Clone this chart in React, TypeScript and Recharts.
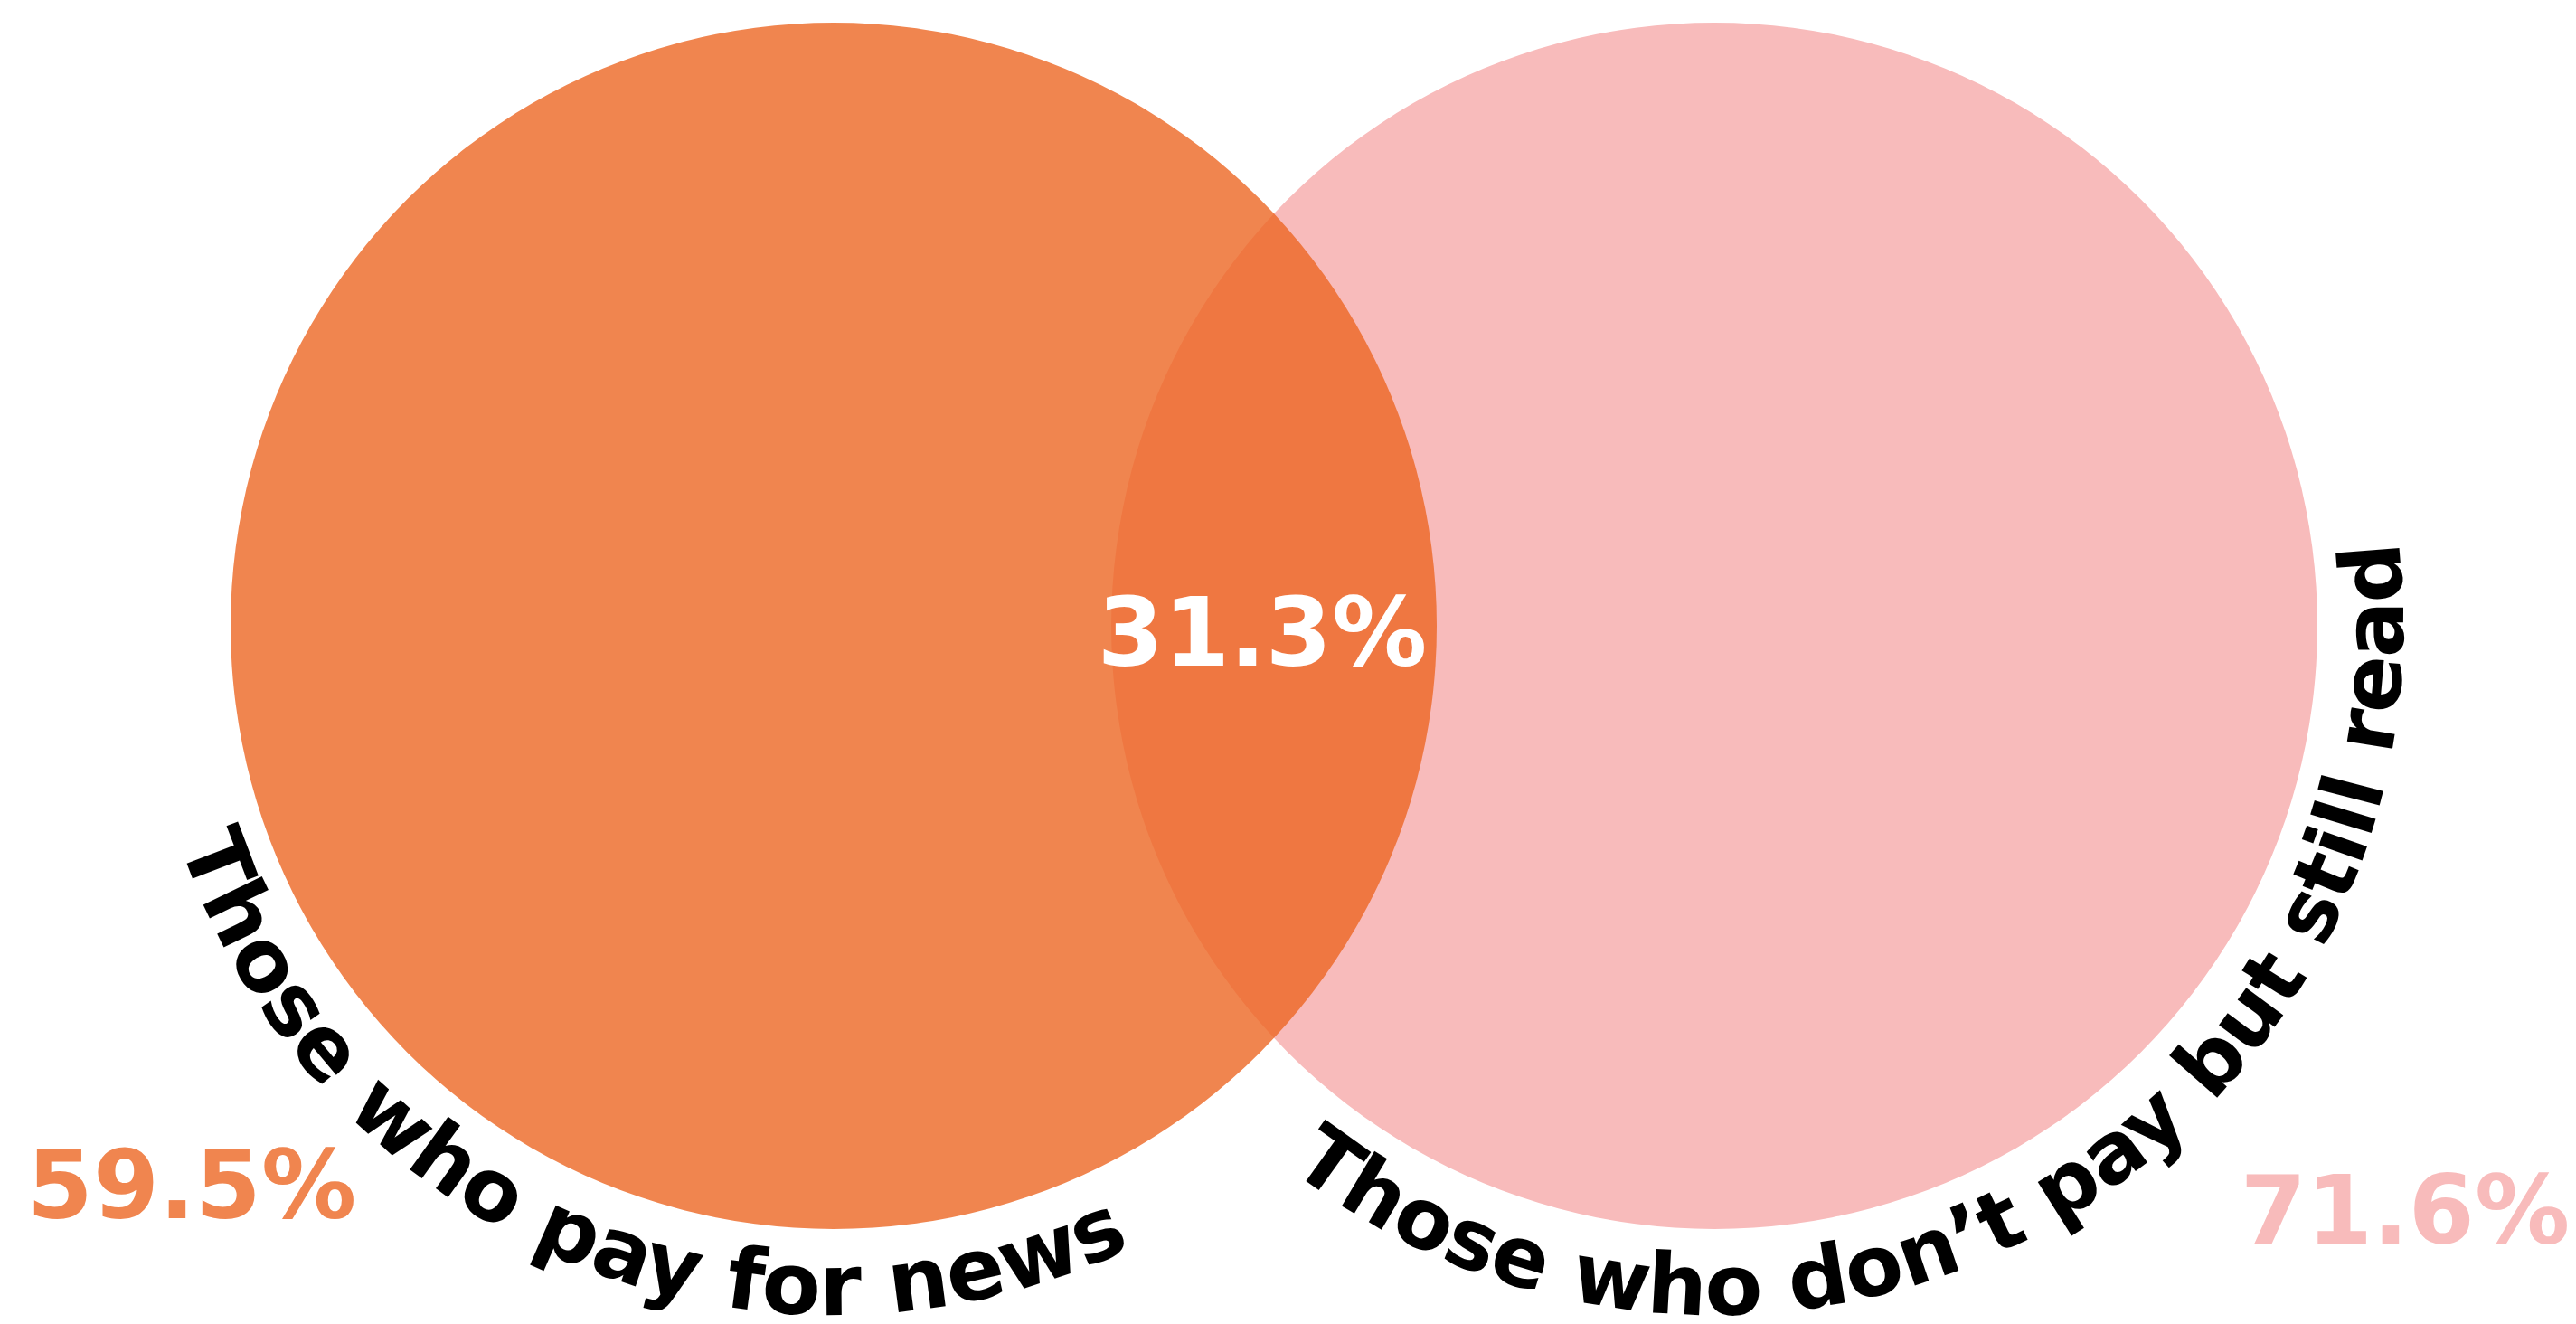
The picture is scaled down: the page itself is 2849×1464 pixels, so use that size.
import { Cell, Pie, PieChart } from "recharts";

const setNames = ["Those who pay for news", "Those who don\u2019t pay but still read"];
const setShares = [59.5, 71.6];
const overlapShare = 31.3;

const setFills = ["#EC6623", "#F8BBBB"];
const setOpacity = [0.8, 1];
const shareColors = ["#F0854F", "#F8BBBB"];

const W = 2849;
const H = 1464;
const RADIUS = 667;
const CY = 692;
const CX = [922, 1896];
// where each curved set name is centred (degrees, screen coords, y down)
const NAME_MID = [113, 60.5];
const NAME_SIZE = [95, 93];
const NAME_GAP = 95;
// share label position relative to its circle centre
const SHARE_OFFSET = [
  [-710, 655],
  [764, 683],
];

const FONT = "'DejaVu Sans', Verdana, sans-serif";

const fmt = (v: number) => `${v.toFixed(1)}%`;

function makeLabel(i: number) {
  return (props: any) => {
    const { cx, cy, outerRadius } = props;
    const rr = outerRadius + NAME_GAP;
    const mid = (NAME_MID[i] * Math.PI) / 180;
    const half = (85 * Math.PI) / 180;
    const a0 = mid + half;
    const a1 = mid - half;
    const d = `M ${cx + rr * Math.cos(a0)} ${cy + rr * Math.sin(a0)} A ${rr} ${rr} 0 0 0 ${
      cx + rr * Math.cos(a1)
    } ${cy + rr * Math.sin(a1)}`;
    const id = `set-name-path-${i}`;
    return (
      <g>
        <defs>
          <path id={id} d={d} fill="none" />
        </defs>
        <text fontFamily={FONT} fontWeight="bold" fontSize={NAME_SIZE[i]} fill="#000">
          <textPath href={`#${id}`} startOffset="50%" textAnchor="middle">
            {setNames[i]}
          </textPath>
        </text>
        <text
          x={cx + SHARE_OFFSET[i][0]}
          y={cy + SHARE_OFFSET[i][1]}
          textAnchor="middle"
          fontFamily={FONT}
          fontWeight="bold"
          fontSize={105}
          fill={shareColors[i]}
        >
          {fmt(setShares[i])}
        </text>
        {i === 0 && (
          <text
            x={(cx + outerRadius + CX[1] - RADIUS) / 2 - 13}
            y={cy + 44}
            textAnchor="middle"
            fontFamily={FONT}
            fontWeight="bold"
            fontSize={105}
            fill="#fff"
          >
            {fmt(overlapShare)}
          </text>
        )}
      </g>
    );
  };
}

export default function App() {
  // right set first so the left one sits on top in the overlap
  const order = [1, 0];
  return (
    <div style={{ position: "absolute", left: 0, top: 0, background: "#fff" }}>
      <PieChart width={W} height={H} margin={{ top: 0, right: 0, bottom: 0, left: 0 }}>
        {order.map((i) => (
          <Pie
            key={i}
            data={[{ name: setNames[i], value: setShares[i] }]}
            dataKey="value"
            cx={CX[i]}
            cy={CY}
            outerRadius={RADIUS}
            startAngle={90}
            endAngle={450}
            stroke="none"
            labelLine={false}
            label={makeLabel(i)}
            isAnimationActive={false}
          >
            <Cell fill={setFills[i]} fillOpacity={setOpacity[i]} />
          </Pie>
        ))}
      </PieChart>
    </div>
  );
}
